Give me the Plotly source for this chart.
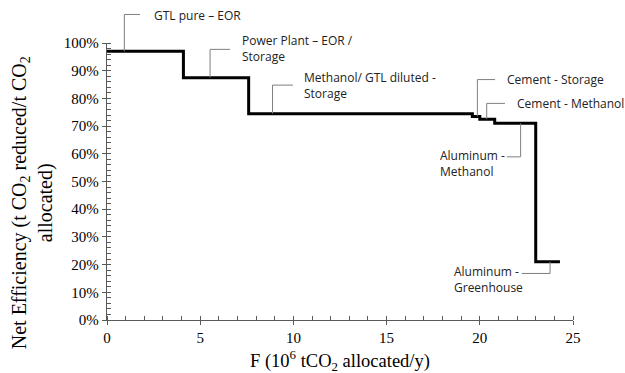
import plotly.graph_objects as go

# Step data (cumulative allocation boundaries, efficiency)
x_bounds = [0, 4.1, 7.6, 19.6, 20.0, 20.8, 23.0, 24.3]
efficiency = [0.97, 0.875, 0.745, 0.735, 0.725, 0.71, 0.21, 0.21]

# Callouts: label, anchor x, anchor y (on curve), elbow y, elbow end x, text x, text y
callout_labels = ["GTL pure – EOR", "Power Plant – EOR /<br>Storage",
                  "Methanol/ GTL diluted -<br>Storage", "Cement - Storage",
                  "Cement - Methanol", "Aluminum -<br>Methanol",
                  "Aluminum -<br>Greenhouse"]
callout_x = [0.93, 5.53, 8.88, 19.87, 20.37, 22.19, 23.77]
callout_y = [0.97, 0.875, 0.745, 0.735, 0.725, 0.71, 0.21]
elbow_y = [1.103, 0.977, 0.848, 0.868, 0.782, 0.589, 0.168]
elbow_x = [1.77, 6.6, 9.98, 20.82, 21.35, 21.45, 22.25]
text_x = [2.41, 7.13, 10.45, 21.35, 21.88, 17.75, 18.49]
text_y = [1.10, 0.98, 0.845, 0.868, 0.782, 0.565, 0.145]

tick_vals_y = [i / 10 for i in range(11)]
tick_vals_x = [0, 5, 10, 15, 20, 25]

fig = go.Figure()
fig.add_trace(go.Scatter(x=x_bounds, y=efficiency, mode="lines", line_shape="hv",
                         line=dict(color="black", width=3), showlegend=False,
                         hoverinfo="skip"))
# dummy trace for overlay axes (inside major ticks)
fig.add_trace(go.Scatter(x=[None], y=[None], xaxis="x2", yaxis="y2", showlegend=False))

axis_color = "#595959"
tickfont = dict(family="Liberation Serif", size=15, color="black")

fig.update_layout(
    width=625, height=373,
    margin=dict(l=107, r=52, t=43, b=53),
    paper_bgcolor="white", plot_bgcolor="white",
    xaxis=dict(range=[0, 25], tickvals=tick_vals_x, ticks="outside", ticklen=4,
               tickcolor=axis_color, showline=True, linecolor=axis_color, linewidth=1.3,
               showgrid=False, zeroline=False, tickfont=tickfont,
               minor=dict(dtick=1, ticks="inside", ticklen=4, tickcolor=axis_color)),
    yaxis=dict(range=[0, 1], tickvals=tick_vals_y, tickformat=".0%", ticks="outside",
               ticklen=4, tickcolor=axis_color, showline=True, linecolor=axis_color,
               linewidth=1.3, showgrid=False, zeroline=False, tickfont=tickfont,
               minor=dict(dtick=0.02, ticks="inside", ticklen=4, tickcolor=axis_color)),
    xaxis2=dict(range=[0, 25], overlaying="x", tickvals=tick_vals_x, ticks="inside",
                ticklen=4, tickcolor=axis_color, showticklabels=False, showgrid=False,
                zeroline=False, showline=False, anchor="y2"),
    yaxis2=dict(range=[0, 1], overlaying="y", tickvals=tick_vals_y, ticks="inside",
                ticklen=4, tickcolor=axis_color, showticklabels=False, showgrid=False,
                zeroline=False, showline=False, anchor="x2"),
    showlegend=False,
)

shapes = []
annotations = []
for lab, cx, cy, ey, ex, tx, ty in zip(callout_labels, callout_x, callout_y, elbow_y,
                                      elbow_x, text_x, text_y):
    shapes.append(dict(type="line", xref="x", yref="paper", x0=cx, x1=cx, y0=cy, y1=ey,
                       line=dict(color="#7f7f7f", width=1)))
    shapes.append(dict(type="line", xref="x", yref="paper", x0=cx, x1=ex, y0=ey, y1=ey,
                       line=dict(color="#7f7f7f", width=1)))
    annotations.append(dict(text=lab, x=tx, y=ty, xref="x", yref="paper",
                            xanchor="left", yanchor="middle", align="left",
                            showarrow=False,
                            font=dict(family="Open Sans", size=12, color="#222222")))

annotations.append(dict(text="F (10<sup>6</sup> tCO<sub>2</sub> allocated/y)",
                        x=0.5, y=-0.145, xref="paper", yref="paper",
                        xanchor="center", yanchor="middle", showarrow=False,
                        font=dict(family="Liberation Serif", size=18.5, color="black")))
annotations.append(dict(text="Net Efficiency (t CO<sub>2</sub> reduced/t CO<sub>2</sub><br>allocated)",
                        x=-0.161, y=0.425, xref="paper", yref="paper", textangle=-90,
                        xanchor="center", yanchor="middle", showarrow=False,
                        font=dict(family="Liberation Serif", size=20, color="black")))

fig.update_layout(shapes=shapes, annotations=annotations)
fig.write_html("out.html")
